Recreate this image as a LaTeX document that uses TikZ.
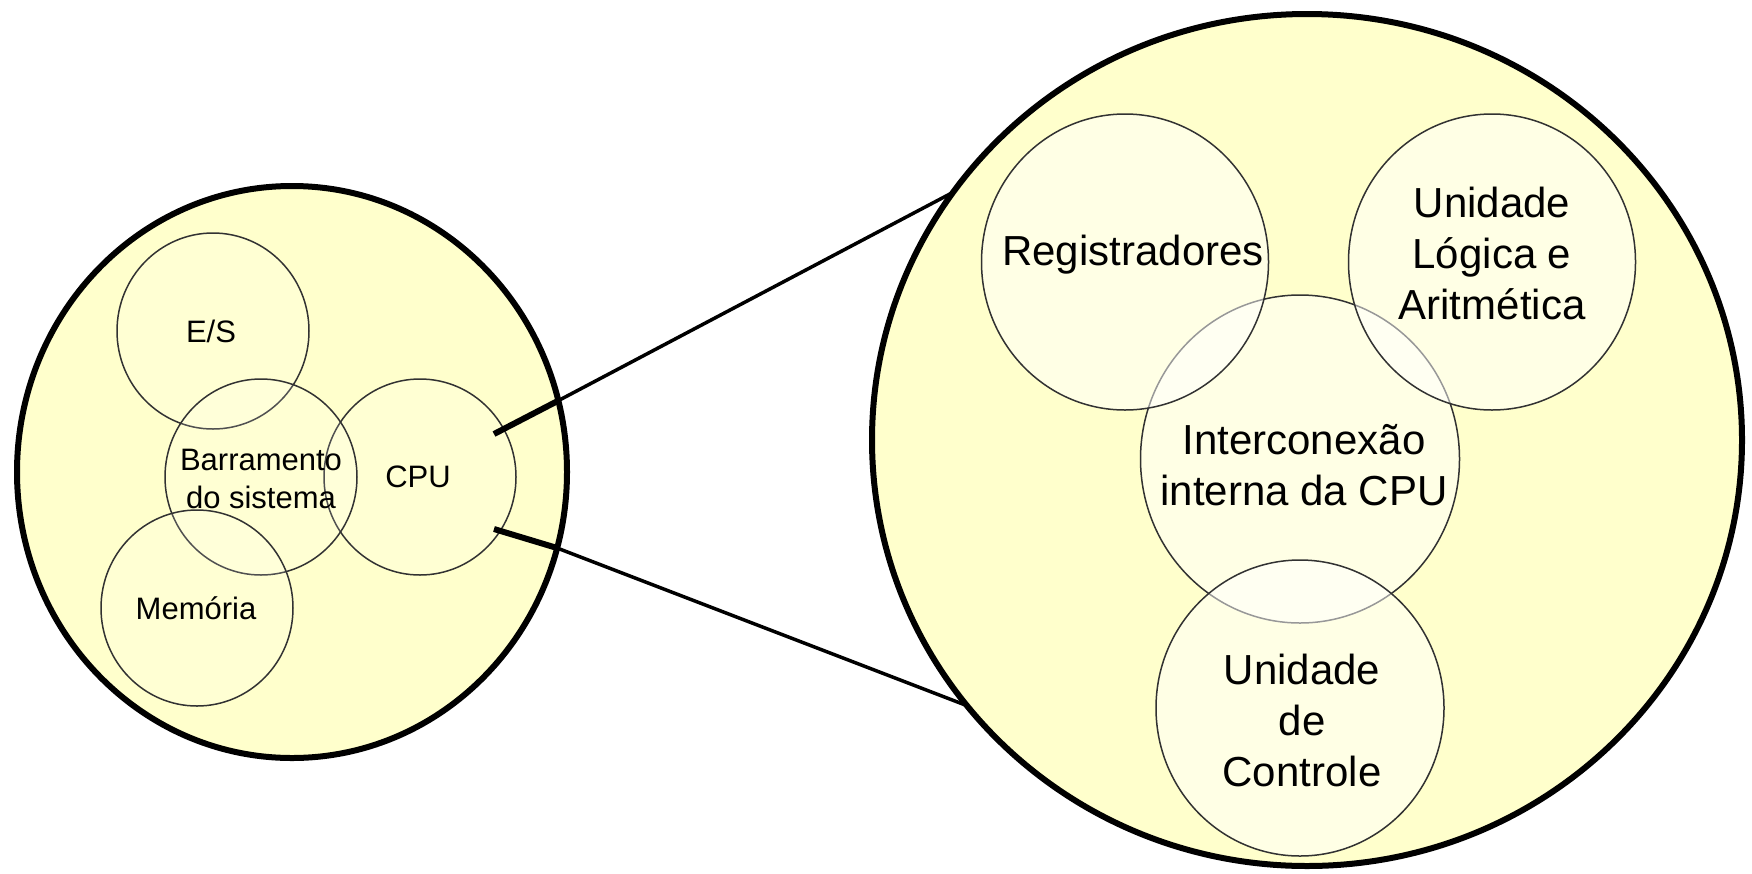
\documentclass[tikz,border=0pt]{standalone}
\usepackage{fontspec}
\setmainfont{Liberation Sans}
\usetikzlibrary{shapes.geometric}
\definecolor{bgyellow}{RGB}{255,255,204}
\definecolor{rimgray}{RGB}{50,50,50}
\begin{document}
\begin{tikzpicture}[x=1pt,y=-1pt,
  bigcirc/.style={ellipse, draw=black, line width=6pt, fill=bgyellow, inner sep=0pt, outer sep=0pt},
  smallc/.style={ellipse, draw=rimgray, line width=1.5pt, fill=white, fill opacity=0.15, draw opacity=1, inner sep=0pt},
  rightc/.style={ellipse, draw=rimgray, line width=1.5pt, fill=white, fill opacity=0.5, draw opacity=1, inner sep=0pt},
  lbl/.style={align=center, inner sep=0pt, font=\fontsize{31}{38}\selectfont},
  rlbl/.style={align=center, inner sep=0pt, font=\fontsize{42}{51}\selectfont},
  wirethick/.style={line width=6pt, black},
  wire/.style={line width=3.5pt, black}]
\useasboundingbox (0,0) rectangle (1752,873);
% big circles
\node[bigcirc, minimum width=550pt, minimum height=572pt] (sys) at (292,472) {};
\node[bigcirc, minimum width=870pt, minimum height=852pt] (cpuz) at (1307,440) {};
% left inner circles
\node[smallc, minimum width=192pt, minimum height=196pt] (es) at (213,331) {};
\node[smallc, minimum width=192pt, minimum height=196pt] (cpu) at (420,477) {};
\node[smallc, minimum width=192pt, minimum height=196pt] (barr) at (261,477) {};
\node[smallc, minimum width=192pt, minimum height=196pt] (mem) at (197,608) {};
% right inner circles
\node[rightc, minimum width=319pt, minimum height=328pt] (inter) at (1300,459) {};
\node[rightc, minimum width=287pt, minimum height=296pt] (reg) at (1125,262) {};
\node[rightc, minimum width=287pt, minimum height=296pt] (ula) at (1492,262) {};
\node[rightc, minimum width=288pt, minimum height=296pt] (ctrl) at (1300,708) {};
% connectors
\coordinate (u1) at (494,434);
\coordinate (d1) at (494,529);
\draw[wirethick] (u1) -- (sys.15);
\draw[wire] (sys.15) -- (cpuz.145);
\draw[wirethick] (d1) -- (sys.-16.9);
\draw[wire] (sys.-16.9) -- (cpuz.218.3);
% labels
\node[lbl] (tes) at (211,331) {E/S};
\node[lbl] (tbarr) at (261,479) {Barramento\\do sistema};
\node[lbl] (tcpu) at (418,477) {CPU};
\node[lbl] (tmem) at (196,608) {Memória};
\node[rlbl] (treg) at (1133,255) {Registradores};
\node[rlbl] (tula) at (1492,253) {Unidade\\Lógica e\\Aritmética};
\node[rlbl] (tinter) at (1304,465) {Interconexão\\interna da CPU};
\node[rlbl] (tctrl) at (1302,720) {Unidade\\de\\Controle};
\end{tikzpicture}
\end{document}
